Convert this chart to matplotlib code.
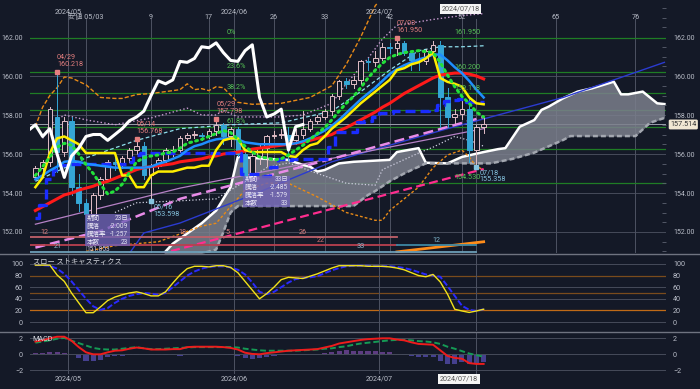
import matplotlib
matplotlib.use("Agg")
import matplotlib.pyplot as plt
import numpy as np
from matplotlib.patches import Rectangle
from matplotlib.lines import Line2D
from matplotlib.ticker import MultipleLocator
import matplotlib.transforms as mtransforms

plt.rcParams['font.family'] = ['Roboto', 'Noto Sans CJK JP', 'DejaVu Sans']

# ---------------- data (bar index 0 = 2024/05/03) ----------------
bars = list(range(-7, 56))
opens = [154.8, 155.3, 155.6, 157.9, 156.1, 157.7, 154.3, 153.5, 152.9, 153.9, 154.7, 155.6,
         155.5, 155.8, 156.2, 156.4, 154.9, 155.4, 155.7, 156.2, 156.2, 156.8, 157.0, 157.0,
         156.9, 157.2, 157.5, 156.9, 157.3, 156.0, 154.8, 155.9, 156.3, 156.9, 157.0, 157.0,
         156.7, 157.0, 157.3, 157.7, 157.9, 158.2, 159.0, 159.75, 159.6, 159.8, 160.75, 160.7,
         160.9, 161.5, 161.45, 161.7, 161.2, 160.8, 160.75, 161.3, 161.6, 158.9, 157.9, 158.05,
         158.3, 156.2, 157.4]
highs = [155.4, 155.7, 158.4, 160.218, 157.9, 157.9, 155.0, 153.7, 154.0, 154.8, 155.7, 155.9,
         155.9, 156.3, 156.768, 156.6, 155.5, 155.8, 156.3, 156.4, 156.9, 157.1, 157.2, 157.1,
         157.3, 157.798, 157.6, 157.4, 157.4, 156.2, 156.1, 156.5, 157.0, 157.2, 157.3, 157.4,
         157.3, 158.2, 157.8, 158.0, 158.3, 159.1, 159.8, 159.9, 160.0, 160.8, 160.9, 161.3,
         161.7, 161.7, 161.95, 161.8, 161.3, 161.2, 161.4, 161.8, 161.8, 159.4, 158.3, 158.9,
         158.9, 157.5, 157.85]
lows = [154.7, 155.0, 155.4, 155.1, 155.9, 153.9, 153.1, 151.853, 152.8, 153.7, 154.6, 155.2,
        155.3, 155.6, 156.0, 154.7, 153.598, 155.3, 155.6, 155.9, 156.1, 156.7, 156.8, 156.7,
        156.8, 157.0, 156.5, 156.4, 155.9, 154.5, 154.6, 155.5, 155.4, 156.8, 156.8, 155.7,
        156.5, 156.8, 157.2, 157.6, 157.8, 158.0, 158.8, 159.4, 159.4, 159.6, 160.3, 160.5,
        160.8, 161.2, 161.1, 161.1, 160.3, 160.3, 160.6, 161.1, 157.4, 157.4, 157.6, 157.8,
        155.6, 155.358, 157.1]
closes = [155.3, 155.6, 158.3, 156.1, 157.7, 154.3, 153.5, 152.9, 153.9, 154.7, 155.6, 155.5,
          155.8, 156.2, 156.4, 154.9, 155.4, 155.7, 156.2, 156.2, 156.8, 157.0, 157.0, 156.9,
          157.2, 157.5, 156.9, 157.3, 156.0, 154.8, 155.9, 156.3, 156.9, 157.0, 157.0, 156.7,
          157.0, 157.3, 157.7, 157.9, 158.2, 159.0, 159.75, 159.6, 159.8, 160.75, 160.7, 160.9,
          161.5, 161.45, 161.7, 161.2, 160.8, 160.75, 161.3, 161.6, 158.9, 157.9, 158.05, 158.3,
          156.2, 157.4, 157.514]

tenkan = [154.3, 154.8, 156.05, 156.8, 156.9, 156.7, 156.5, 156.05, 156.05, 156.05, 156.05, 156.05,
          154.9, 154.9, 154.3, 154.3, 154.9, 155.1, 155.1, 155.1, 155.2, 155.3, 155.3, 155.4,
          155.4, 156.2, 156.7, 156.8, 156.8, 156.2, 156.1, 156.1, 156.1, 156.1, 156.1, 155.9,
          155.85, 156.2, 156.45, 156.55, 156.9, 157.3, 157.6, 157.9, 158.25, 158.6, 158.9, 159.2,
          159.5, 159.8, 160.3, 160.4, 160.6, 160.7, 160.9, 161.2, 159.9, 159.7, 159.6, 159.45,
          158.9, 158.6, 158.55]
kijun = [152.7, 153.4, 154.7, 155.2, 155.45, 155.5, 155.5, 155.5, 155.5, 155.5, 155.5, 155.5,
         155.5, 155.6, 155.95, 156.05, 156.05, 156.05, 156.05, 156.05, 156.05, 156.05, 156.05, 156.05,
         156.05, 156.05, 156.05, 156.05, 156.05, 154.95, 154.95, 154.95, 154.85, 155.35, 155.75, 155.7,
         155.75, 155.75, 155.75, 155.75, 155.75, 156.35, 157.15, 157.15, 157.15, 157.65, 157.7, 157.9,
         158.1, 158.1, 158.2, 158.2, 158.2, 158.2, 158.2, 158.25, 158.5, 158.7, 158.75, 158.8,
         158.65, 158.65, 158.65]
ma_blue = [154.7, 154.9, 155.15, 155.35, 155.6, 155.65, 155.6, 155.5, 155.45, 155.4, 155.35, 155.3,
           155.3, 155.3, 155.3, 155.3, 155.35, 155.5, 155.6, 155.75, 155.9, 156.2, 156.4, 156.5,
           156.65, 156.75, 156.8, 156.8, 156.75, 156.6, 156.55, 156.5, 156.5, 156.5, 156.5, 156.5,
           156.55, 156.65, 156.8, 157.0, 157.2, 157.45, 157.75, 158.1, 158.45, 158.8, 159.1, 159.4,
           159.75, 160.1, 160.35, 160.55, 160.7, 160.85, 160.95, 161.1, 161.1, 160.8, 160.45, 160.15,
           159.75, 159.3, 158.9]
ma_red = [153.1, 153.3, 153.5, 153.7, 153.9, 154.0, 154.15, 154.25, 154.35, 154.5, 154.6, 154.75,
          154.9, 155.05, 155.2, 155.3, 155.35, 155.4, 155.45, 155.5, 155.6, 155.65, 155.7, 155.75,
          155.85, 155.9, 156.0, 156.05, 156.1, 156.15, 156.25, 156.3, 156.35, 156.4, 156.45, 156.5,
          156.55, 156.6, 156.7, 156.8, 156.9, 157.0, 157.2, 157.35, 157.55, 157.75, 157.95, 158.15,
          158.4, 158.6, 158.85, 159.1, 159.3, 159.5, 159.7, 159.9, 160.05, 160.1, 160.15, 160.15,
          160.1, 160.0, 159.85]
ma_green = [154.9, 155.35, 155.85, 156.35, 156.55, 156.45, 156.0, 155.45, 155.0, 154.45, 153.95, 154.1,
            154.45, 155.05, 155.6, 155.8, 155.9, 155.95, 156.05, 156.1, 156.3, 156.55, 156.65, 156.75,
            156.9, 157.05, 157.2, 157.1, 156.75, 156.4, 156.1, 155.85, 155.8, 155.7, 155.75, 155.95,
            156.2, 156.45, 156.75, 157.05, 157.35, 157.75, 158.2, 158.6, 158.95, 159.4, 159.9, 160.3,
            160.65, 160.95, 161.1, 161.2, 161.25, 161.3, 161.25, 161.2, 160.7, 160.05, 159.45, 158.95,
            158.6, 158.15, 157.9]

# Ichimoku cloud (already shifted forward)
spanA_bars = [10, 12, 16, 18, 20, 21, 23, 25, 28, 30, 31, 32, 33, 35, 37, 42, 43, 46, 47, 50,
              52, 55, 57, 58, 60, 62, 63, 64, 66, 68, 70, 73, 74, 75, 77, 79, 80]
spanA = [150.6, 151.4, 152.45, 153.1, 154.3, 155.85, 155.8, 155.75, 155.7, 155.44, 155.35, 155.1,
         155.18, 155.52, 155.6, 155.7, 156.1, 156.3, 155.55, 155.52, 155.85, 156.1, 156.25, 156.3,
         157.4, 157.74, 158.26, 158.43, 158.86, 159.2, 159.37, 159.71, 159.06, 159.06, 159.2, 158.6, 158.56]
spanB_bars = [10, 16, 18, 19, 20, 21, 37, 39, 40, 42, 44, 47, 56, 59, 62, 66, 67, 76, 78, 80]
spanB = [150.7, 150.9, 151.1, 152.0, 153.0, 153.33, 153.33, 153.9, 154.1, 154.6, 155.0, 155.52,
         155.52, 155.75, 156.07, 156.72, 156.92, 156.92, 157.6, 157.85]

# bands / trend lines
up_dot_bars = [-6, -5, -3, 0, 4, 9, 14, 16, 18, 19, 21, 27, 30, 34, 36, 39, 41, 43, 48, 52, 55]
up_dot = [156.8, 157.5, 158.0, 157.75, 157.5, 157.85, 158.35, 158.0, 158.0, 158.25, 157.9, 157.9,
          158.0, 158.6, 159.6, 160.9, 161.9, 162.6, 162.9, 163.1, 163.2]
up_org_bars = [-7, -6, -5, -4, -3, -2, 0, 2, 4, 5, 7, 9, 11, 13, 14, 15, 16, 17, 18, 19, 21, 23,
               27, 31, 34, 36, 38, 40, 42]
up_org = [157.4, 158.4, 159.0, 159.4, 159.95, 159.9, 159.55, 158.9, 158.85, 158.85, 159.05, 159.1,
          159.2, 159.3, 159.6, 159.3, 159.35, 159.25, 159.45, 159.4, 158.65, 158.55, 158.6, 158.9,
          159.5, 160.6, 162.0, 163.6, 164.5]
lo_org_bars = [0, 4, 10, 16, 18, 22, 25, 28, 32, 36, 40, 41, 42, 46, 48, 50, 52, 53, 54, 55]
lo_org = [151.0, 151.3, 151.5, 152.3, 152.45, 154.15, 154.5, 154.5, 153.8, 153.0, 152.6, 152.6,
          153.1, 154.3, 155.3, 155.95, 156.2, 155.85, 155.35, 155.2]
lo_dot_bars = [4, 7, 13, 18, 22, 25, 28, 32, 36, 40, 41, 46, 48, 51, 53, 55]
lo_dot = [153.0, 153.5, 153.6, 153.7, 154.6, 155.3, 155.55, 155.0, 154.5, 154.4, 155.2, 156.05,
          156.35, 156.9, 156.7, 156.4]
cyan_bars = [-7, 0, 7, 13, 20, 27, 34, 38, 42, 46, 49, 52, 55]
cyan_line = [154.6, 155.8, 156.7, 157.3, 157.5, 157.6, 158.2, 159.2, 160.3, 161.3, 161.5, 161.5, 161.55]
violet_bars = [-7, 2, 13, 35, 55]
violet_line = [151.2, 152.05, 153.7, 155.85, 157.9]
magenta_bars = [10, 55]
magenta_line = [150.85, 155.23]
lilac_bars = [-7, 13, 55]
lilac_line = [152.4, 154.25, 157.3]
navy_bars = [6, 8, 13, 23, 34, 50, 66, 80]
navy_line = [150.9, 151.95, 152.46, 153.9, 155.6, 157.3, 158.9, 160.7]
orange_trend_bars = [43, 55]
orange_trend = [150.98, 151.5]

# Fibonacci levels
fib_levels = [161.95, 160.20, 159.118, 158.24, 157.365, 156.28, 154.53]
fib_left_labels = ['0%', '23.6%', '38.2%', '', '61.8%', '', '']
fib_right_labels = ['161.950', '160.200', '159.118', '', '', '', '154.530']

# Slow stochastics
stoch_k = [98, 98, 98, 81, 70, 50, 33, 16, 16, 26, 37, 43, 47, 50, 52, 49, 45, 45, 52, 67, 81, 92,
           96, 96, 95, 97, 97, 94, 85, 70, 55, 40, 49, 60, 73, 77, 76, 75, 79, 83, 88, 93, 97, 97,
           97, 97, 96, 96, 96, 95, 93, 90, 85, 80, 78, 82, 69, 48, 22, 19, 16.5, 19, 22]
stoch_d = [98, 98, 97, 92, 83, 70, 55, 40, 27, 21, 24, 33, 40, 45, 48, 50, 49, 47, 50, 60, 70, 80,
           87, 92, 95, 96, 96, 94, 90, 82, 68, 52, 48, 52, 60, 68, 74, 76, 77, 79, 84, 89, 93, 96,
           97, 97, 97, 96, 96, 96, 95, 93, 90, 86, 82, 80, 78, 62, 45, 28, 21, 19, 22]

# MACD
macd = [1.6, 1.75, 2.0, 2.2, 2.2, 1.7, 0.9, 0.25, 0.0, 0.0, 0.25, 0.45, 0.5, 0.7, 0.85, 0.75, 0.6,
        0.6, 0.6, 0.65, 0.65, 0.9, 0.95, 0.95, 0.95, 0.95, 0.9, 0.8, 0.6, 0.2, 0.05, 0.0, 0.15, 0.25,
        0.35, 0.45, 0.5, 0.55, 0.6, 0.65, 0.85, 1.05, 1.35, 1.5, 1.65, 1.8, 1.9, 1.95, 2.0, 2.0, 1.85,
        1.75, 1.5, 1.3, 1.25, 1.2, 0.5, -0.2, -0.45, -0.55, -1.1, -1.2, -1.2]
signal = [1.45, 1.6, 1.75, 1.95, 2.05, 1.7, 1.4, 1.1, 0.8, 0.65, 0.6, 0.6, 0.7, 0.8, 0.9, 0.75,
          0.65, 0.65, 0.7, 0.75, 0.8, 0.85, 0.9, 0.9, 0.9, 0.9, 0.9, 0.9, 0.85, 0.7, 0.6, 0.5, 0.45,
          0.45, 0.45, 0.45, 0.45, 0.5, 0.55, 0.6, 0.7, 0.75, 0.9, 1.0, 1.2, 1.35, 1.45, 1.55, 1.65,
          1.75, 1.8, 1.8, 1.75, 1.65, 1.6, 1.5, 1.3, 0.95, 0.7, 0.4, 0.1, -0.1, -0.3]
hist = [0.15, 0.15, 0.25, 0.25, 0.15, 0.0, -0.5, -0.85, -0.8, -0.65, -0.35, -0.15, -0.2, -0.1,
        -0.05, 0.0, -0.05, -0.05, -0.1, -0.1, -0.15, 0.05, 0.05, 0.05, 0.05, 0.05, 0.0, -0.1, -0.25,
        -0.5, -0.55, -0.5, -0.3, -0.2, -0.1, 0.0, 0.05, 0.05, 0.05, 0.05, 0.15, 0.3, 0.45, 0.5, 0.45,
        0.45, 0.45, 0.4, 0.35, 0.25, 0.05, -0.05, -0.25, -0.35, -0.35, -0.3, -0.8, -1.15, -1.15,
        -0.95, -1.2, -1.1, -0.9]

month_lines = [-2.5, 20.5, 40.5]
month_names = ['2024/05', '2024/06', '2024/07']
count_lines = [9, 17, 26, 33, 42, 52, 65, 76]
cursor_bar = 54
last_price = 157.514

# ---------------- layout ----------------
W, H = 700, 389
BG = '#141927'
TXT = '#b9bdc8'
GRID = '#464b5a'
VL = '#4d5262'
FS = 5.2
fig = plt.figure(figsize=(W / 100, H / 100), dpi=100)
fig.patch.set_facecolor(BG)


def add_ax(x0, y0, x1, y1):
    a = fig.add_axes([x0 / W, 1 - y1 / H, (x1 - x0) / W, (y1 - y0) / H])
    a.set_facecolor(BG)
    for s in a.spines.values():
        s.set_visible(False)
    return a


XL = (-7.745, 80.22)
ax = add_ax(30, 3, 666, 253)
ax.set_xlim(*XL)
ax.set_ylim(150.923, 163.744)
axs = add_ax(30, 254, 666, 331)
axs.set_xlim(*XL)
axs.set_ylim(-15.5, 117.2)
axm = add_ax(30, 332, 666, 374)
axm.set_xlim(*XL)
axm.set_ylim(-2.46, 2.79)

for a in (ax, axs, axm):
    a.set_xticks([])
    a.tick_params(axis='y', which='major', labelleft=True, labelright=True, left=False, right=False,
                  labelsize=FS, colors=TXT, pad=1.5)

# ---- main panel ----
ax.set_yticks([152, 154, 156, 158, 160, 162])
ax.set_yticklabels(['%.2f' % v for v in [152, 154, 156, 158, 160, 162]])
ax.tick_params(axis='y', which='major', labelsize=5.0, pad=1.5)
ax.yaxis.set_minor_locator(MultipleLocator(0.5))
ax.tick_params(axis='y', which='minor', right=True, left=False, direction='in', length=3,
               color='#5c6170', width=0.6)
for v in [152, 154, 156, 158, 160]:
    ax.axhline(v, color=GRID, lw=0.7, zorder=0.5)
for b in month_lines:
    ax.axvline(b, color=VL, lw=0.7, ymax=0.955, zorder=0.6)
for b in [0] + count_lines + [cursor_bar]:
    ax.axvline(b, color=VL, lw=0.7, ymax=0.935, zorder=0.6)
for lv in fib_levels:
    ax.axhline(lv, color='#1f7d25', lw=0.9, zorder=0.7)
ax.axhline(last_price, color='#9b9fab', lw=0.7, zorder=0.7)

# cloud
xs = np.arange(10, 81)
a_i = np.interp(xs, spanA_bars, spanA)
b_i = np.interp(xs, spanB_bars, spanB)
ax.fill_between(xs, a_i, b_i, color='#7b7f8c', alpha=0.85, lw=0, zorder=1)
ax.plot(spanA_bars, spanA, color='white', lw=1.8, zorder=1.5)
ax.plot(spanB_bars, spanB, color='#a3a7b0', lw=1.8, ls=(0, (2, 1.2)), zorder=1.5)

# bands and trend lines
ax.plot(lo_dot_bars, lo_dot, color='#cfcfe0', lw=0.9, ls=':', zorder=1.8)
ax.plot(up_dot_bars, up_dot, color='#c79ad0', lw=1.0, ls=':', zorder=1.8)
ax.plot(up_org_bars, up_org, color='#e88a17', lw=1.0, ls=(0, (3, 1.5)), zorder=1.8)
ax.plot(lo_org_bars, lo_org, color='#e88a17', lw=1.0, ls=(0, (2, 1.5)), zorder=1.8)
ax.plot(navy_bars, navy_line, color='#2b3bd0', lw=1.0, zorder=1.8)
ax.plot(lilac_bars, lilac_line, color='#b681c6', lw=0.9, zorder=1.8)
ax.plot(violet_bars, violet_line, color='#e88be8', lw=1.8, ls=(0, (4, 2)), zorder=1.9)
ax.plot(magenta_bars, magenta_line, color='#ff2d8f', lw=1.6, ls=(0, (4, 2)), zorder=1.9)
ax.plot(cyan_bars, cyan_line, color='#8fe0ee', lw=0.9, ls=(0, (3, 2)), zorder=1.9)
ax.plot(orange_trend_bars, orange_trend, color='#ff8c1a', lw=2.0, zorder=2)

# candles
UP = '#e2bfc7'
DN = '#35a6d6'
for b, o, h, l, c in zip(bars, opens, highs, lows, closes):
    col = UP if c >= o else DN
    ax.plot([b, b], [l, h], color=col, lw=0.7, zorder=3)
    lo_, hi_ = min(o, c), max(o, c)
    if c >= o:
        ax.add_patch(Rectangle((b - 0.32, lo_), 0.64, max(hi_ - lo_, 0.03), facecolor=BG,
                               edgecolor=UP, lw=0.7, zorder=3.1))
    else:
        ax.add_patch(Rectangle((b - 0.32, lo_), 0.64, max(hi_ - lo_, 0.03), facecolor=DN,
                               edgecolor=DN, lw=0.7, zorder=3.1))

# moving lines
ax.plot(bars, ma_red, color='#ff1a1a', lw=2.2, zorder=4)
ax.plot(bars, kijun, color='#1a2cff', lw=2.4, ls=(0, (3, 1.5)), drawstyle='steps-mid', zorder=4)
ax.plot(bars, ma_blue, color='#1e8fff', lw=1.8, zorder=4.1)
ax.plot(bars, tenkan, color='#ffee00', lw=1.8, zorder=4.2)
ax.plot(bars, ma_green, color='#22e03a', lw=2.2, ls=(0, (0.6, 1.4)), dash_capstyle='round', zorder=4.3)
ax.plot(np.array(bars) - 25, closes, color='white', lw=2.2, zorder=4.5)

# fib labels
for lv, nm in zip(fib_levels, fib_left_labels):
    if nm:
        ax.text(19.5, lv + 0.1, nm, color='#55c255', fontsize=FS, ha='left', va='bottom', zorder=5)
for lv, nm in zip(fib_levels, fib_right_labels):
    if nm:
        ax.text(51.0, lv + 0.08, nm, color='#55c255', fontsize=FS, ha='left', va='bottom', zorder=5)

# high / low annotations
HI = '#e47f7f'
LOC = '#86c4e0'
hi_pts = [(-4, '04/29'), (7, '05/14'), (18, '05/29'), (43, '07/03')]
for b, d in hi_pts:
    v = highs[bars.index(b)]
    ax.plot([b], [v], marker='s', ms=2.5, color=HI, zorder=5)
    ax.annotate('%s\n%.3f' % (d, v), (b, v), xytext=(0, 3), textcoords='offset points',
                color=HI, fontsize=FS, ha='left', va='bottom', linespacing=1.0, zorder=5)
lo_pts = [(9, '05/16'), (54, '07/18')]
for b, d in lo_pts:
    v = lows[bars.index(b)]
    ax.plot([b], [v], marker='s', ms=2.5, color=LOC, zorder=5)
    ax.annotate('%s\n%.3f' % (d, v), (b, v), xytext=(2, -2), textcoords='offset points',
                color=LOC, fontsize=FS, ha='left', va='top', linespacing=1.0, zorder=5)

# period bars at bottom of main panel
period_rows = [(0.064, -7.7, 43, '#c0606a', '#d98080', [(-5.7, '12'), (13.4, '18'), (19.6, '5'), (30, '26')]),
               (0.032, -7.7, 43, '#b8404f', '#d07070', [(32.4, '22')]),
               (0.032, 43, 54, '#3d87a3', '#7fb6cc', [(48.5, '12')]),
               (0.006, -7.7, 54, '#6c9fb8', '#8fb8cc', [(-3.9, '21'), (38, '33')])]
trans = mtransforms.blended_transform_factory(ax.transData, ax.transAxes)
for yf, x0, x1, col, tcol, labs in period_rows:
    ax.plot([x0, x1], [yf, yf], color=col, lw=1.3, transform=trans, zorder=2.5)
    for lx, lt in labs:
        ax.text(lx, yf + 0.006, lt, color=tcol, fontsize=FS, ha='center', va='bottom',
                transform=trans, zorder=2.6)

# stats boxes
boxes = [(-0.14, 6.09, 151.28, 152.92, [('期間', '23日'), ('騰落', '-2.009'), ('騰落率', '-1.257'), ('本数', '23')]),
         (21.7, 28.2, 153.28, 154.87, [('期間', '33日'), ('騰落', '-2.485'), ('騰落率', '-1.579'), ('本数', '33')])]
for x0, x1, y0, y1, rows in boxes:
    ax.add_patch(Rectangle((x0, y0), x1 - x0, y1 - y0, facecolor='#6f62b5', alpha=0.8, lw=0, zorder=6))
    step = (y1 - y0) / 4
    for i, (k, v) in enumerate(rows):
        yy = y1 - step * (i + 0.5)
        ax.text(x0 + 0.25, yy, k, color='#e8e6f4', fontsize=4.7, va='center', ha='left', zorder=6.1)
        ax.text(x1 - 0.25, yy, v, color='#e8e6f4', fontsize=4.7, va='center', ha='right', zorder=6.1)
ax.text(0.0, 151.1, '151.853', color='#d0cce8', fontsize=4.7, va='center', ha='left', zorder=6.2)

# top labels
for b, nm in zip(month_lines, month_names):
    ax.text(b, 0.978, nm, transform=trans, color=TXT, fontsize=FS, ha='center', va='top')
for b in count_lines:
    ax.text(b, 0.955, str(b), transform=trans, color=TXT, fontsize=FS, ha='center', va='top')
ax.text(0, 0.955, '安値 05/03', transform=trans, color=TXT, fontsize=FS, ha='center', va='top')
ax.text(cursor_bar - 2.2, 0.99, '2024/07/18', transform=trans, color='#555', fontsize=FS,
        ha='center', va='top', bbox=dict(boxstyle='square,pad=0.25', fc='#f4f4f4', ec='none'), zorder=7)

# last price tag
ax.annotate('%.3f' % last_price, xy=(1.0, last_price),
            xycoords=mtransforms.blended_transform_factory(ax.transAxes, ax.transData),
            xytext=(3, 0), textcoords='offset points', fontsize=FS, color='#333', va='center',
            ha='left', bbox=dict(boxstyle='round,pad=0.2', fc='#f1e7d3', ec='none'), zorder=8,
            annotation_clip=False)

# ---- stochastics ----
axs.set_yticks([0, 20, 40, 60, 80, 100])
for v in [0, 40, 60, 100]:
    axs.axhline(v, color=GRID, lw=0.7)
for v in [80, 50]:
    axs.axhline(v, color='#7a4b1c', lw=0.9)
axs.axhline(20, color='#c06a17', lw=0.9)
for b in month_lines + [cursor_bar]:
    axs.axvline(b, color=VL, lw=0.7)
axs.plot(bars, stoch_d, color='#2a2aff', lw=1.4, ls=(0, (3, 1.2)))
axs.plot(bars, stoch_k, color='#f2e21a', lw=1.0)
axs.text(0.004, 0.93, 'スロー ストキャスティクス', transform=axs.transAxes, color='#d6d8de',
         fontsize=FS, va='top', ha='left')

# ---- MACD ----
axm.set_yticks([-2, 0, 2])
for v in [-2, 0, 2]:
    axm.axhline(v, color=GRID, lw=0.7)
for b in month_lines + [cursor_bar]:
    axm.axvline(b, color=VL, lw=0.7)
axm.bar(bars, hist, width=0.7, color=['#5d3c82' if h >= 0 else '#45408f' for h in hist], zorder=1)
axm.plot(bars, signal, color='#159a55', lw=1.4, ls=(0, (3, 1.5)), zorder=2)
axm.plot(bars, macd, color='#ee1c1c', lw=1.4, zorder=3)
axm.text(0.004, 0.9, 'MACD', transform=axm.transAxes, color='#d6d8de', fontsize=FS, va='top', ha='left')

# separators and bottom date labels
for yy in (253.5, 331.5):
    fig.add_artist(Line2D([0, 1], [1 - yy / H, 1 - yy / H], color='#6f7380', lw=1.0))
transm = mtransforms.blended_transform_factory(axm.transData, fig.transFigure)
for b, nm in zip(month_lines, month_names):
    axm.text(b, 1 - 379 / H, nm, transform=transm, color=TXT, fontsize=FS, ha='center', va='center')
axm.text(cursor_bar - 2.4, 1 - 379 / H, '2024/07/18', transform=transm, color='#555', fontsize=FS,
         ha='center', va='center', bbox=dict(boxstyle='square,pad=0.25', fc='#f4f4f4', ec='none'))

fig.savefig('out.png', dpi=100, facecolor=BG)
